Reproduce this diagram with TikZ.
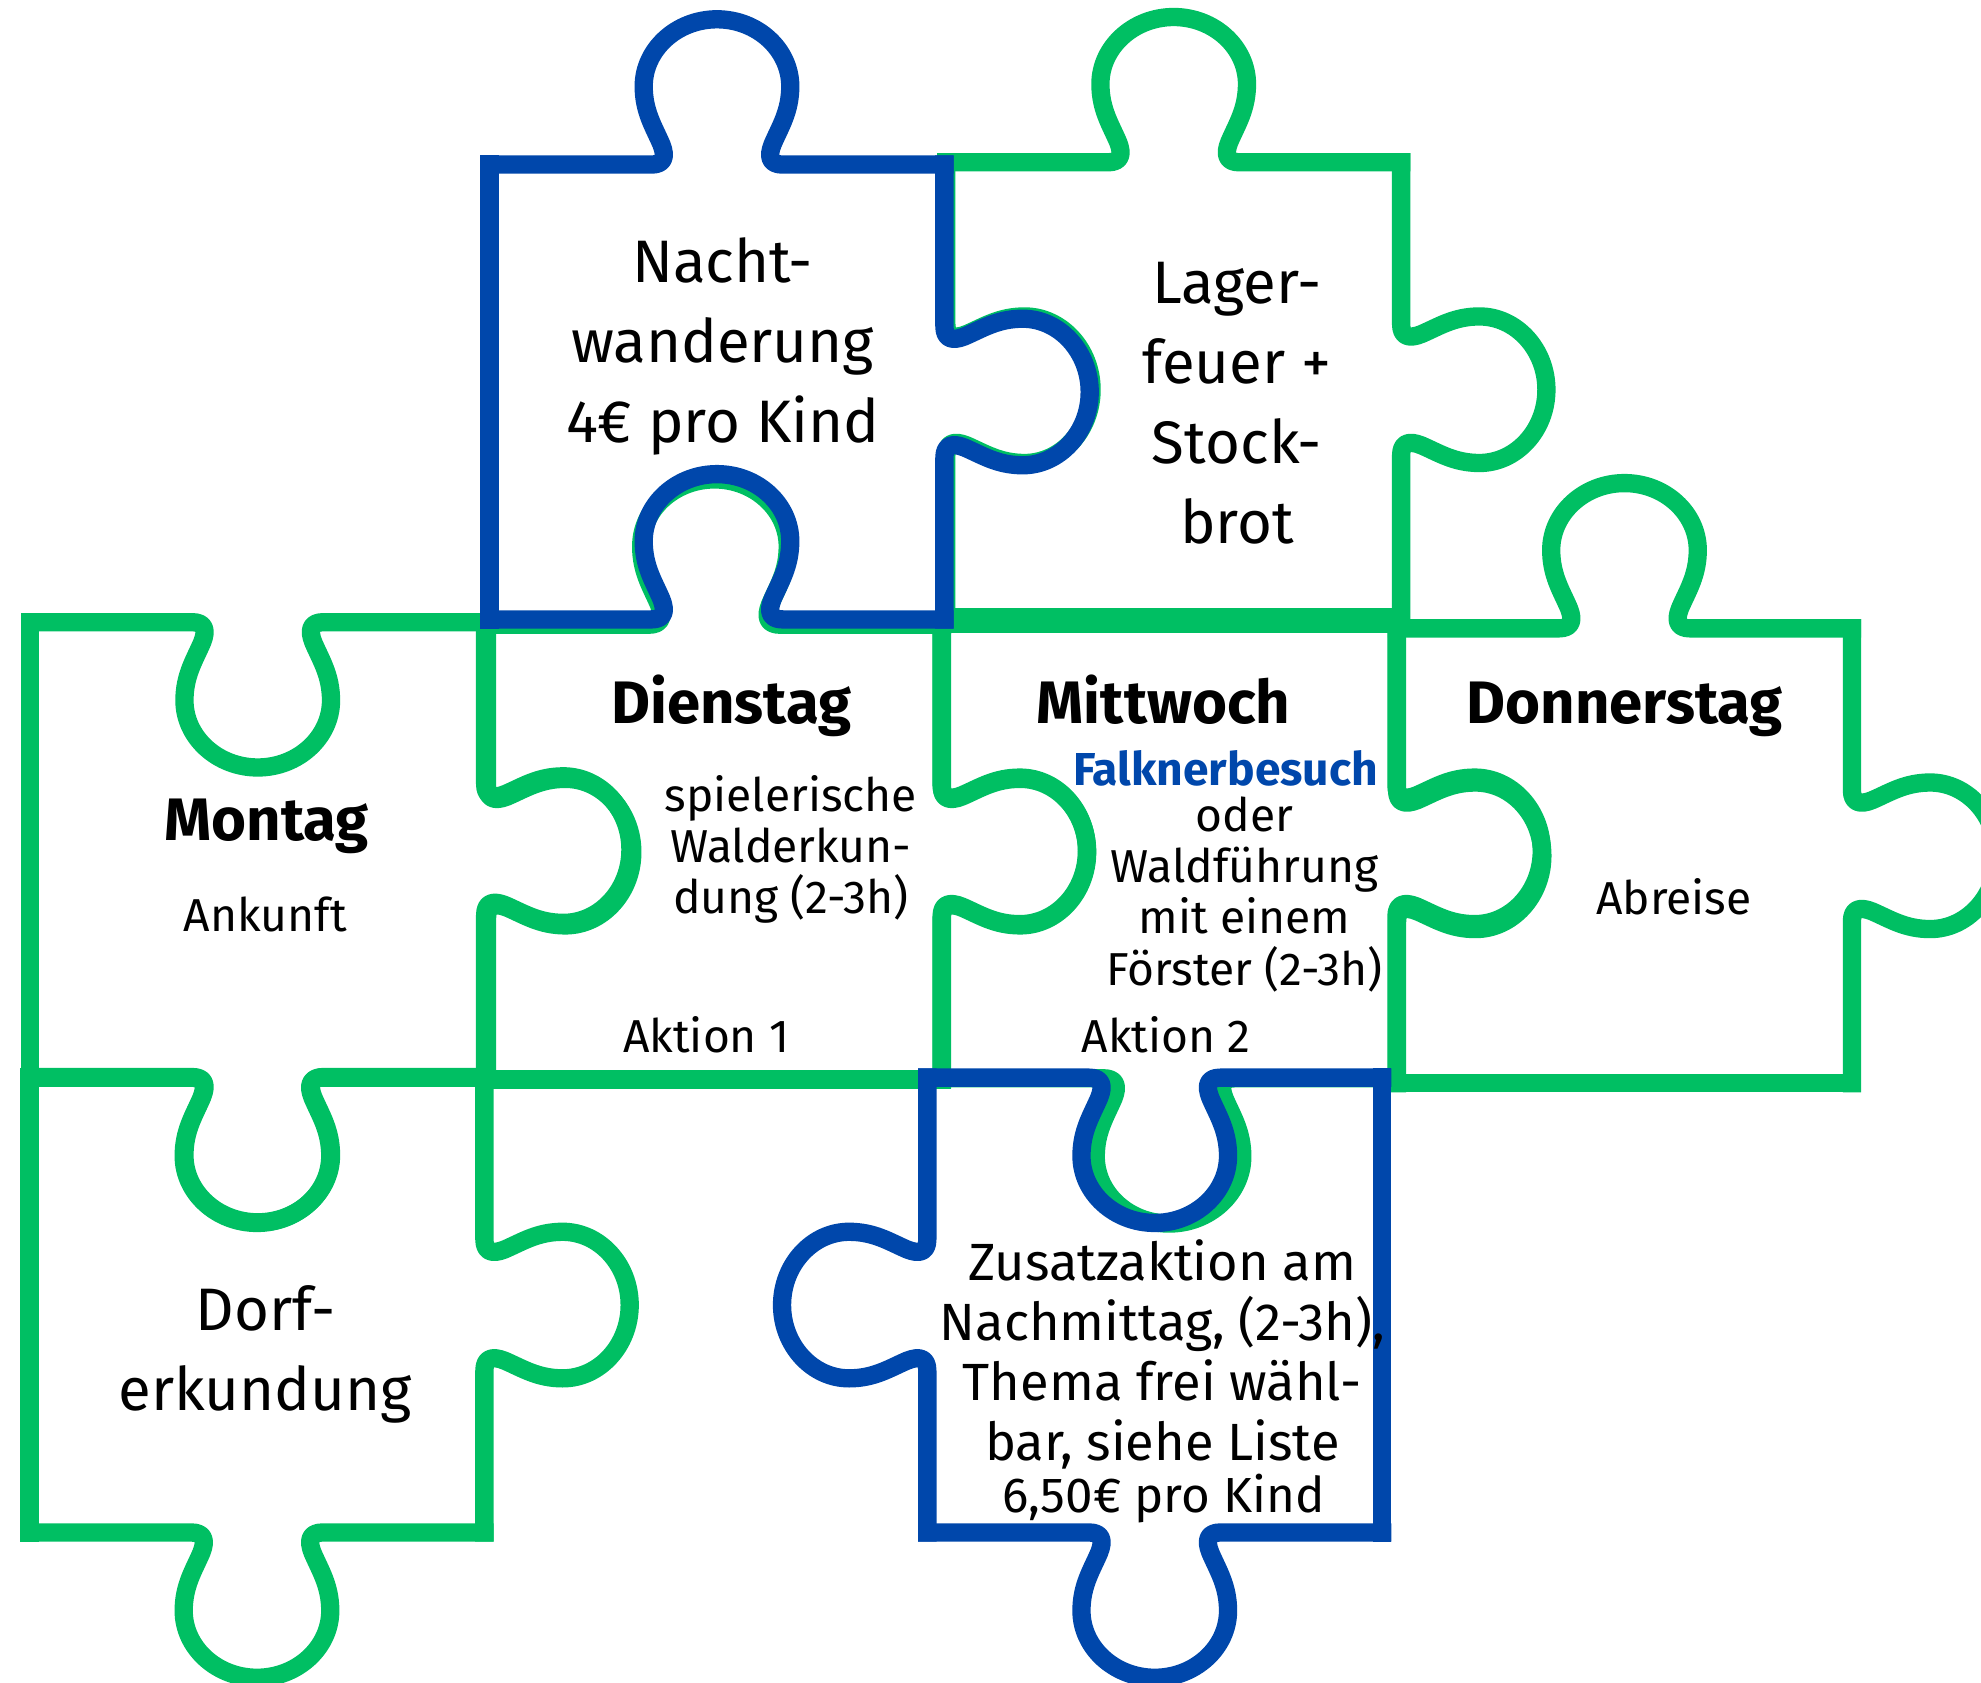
\documentclass[tikz,border=0pt]{standalone}
\usepackage{fontspec}
\setmainfont{Fira Sans}
\usepackage{tikz}
\usetikzlibrary{positioning}
\definecolor{puzzlegreen}{HTML}{00BF63}
\definecolor{puzzleblue}{HTML}{0047AB}
\tikzset
{
  greenpiece/.style = {color=puzzlegreen, line width=1.45mm, line cap=rect, line join=round},
  bluepiece/.style  = {color=puzzleblue, line width=1.45mm, line cap=rect, line join=round},
  bigtext/.style    = {align=center, inner sep=0pt, font=\fontsize{13.5}{18}\selectfont},
  daytext/.style    = {anchor=base, inner sep=0pt, font=\bfseries\fontsize{13.5}{16}\selectfont},
  smalltext/.style  = {align=center, inner sep=0pt, font=\fontsize{10.4}{11.5}\selectfont},
  midtext/.style    = {align=center, inner sep=0pt, font=\fontsize{11.8}{13.5}\selectfont},
  % one puzzle piece: top, right, bottom, left (1 = knob out, -1 = knob in, 0 = flat)
  pics/piece/.style n args = {4}{code={
    \foreach \ang/\knob in {0/#1,-90/#2,180/#3,90/#4}
    {
      \draw[rotate=\ang, yshift=1.8cm] (-1.8,0) -- (-0.52,0)
        .. controls (-0.42,0) and (-0.40,{0.06*(\knob)}) .. (-0.44,{0.16*(\knob)})
        .. controls (-0.50,{0.30*(\knob)}) and (-0.58,{0.42*(\knob)}) .. (-0.58,{0.62*(\knob)})
        .. controls (-0.58,{0.91*(\knob)}) and (-0.32,{1.15*(\knob)}) .. (0,{1.15*(\knob)})
        .. controls (0.32,{1.15*(\knob)}) and (0.58,{0.91*(\knob)}) .. (0.58,{0.62*(\knob)})
        .. controls (0.58,{0.42*(\knob)}) and (0.50,{0.30*(\knob)}) .. (0.44,{0.16*(\knob)})
        .. controls (0.40,{0.06*(\knob)}) and (0.42,0) .. (0.52,0)
        -- (1.8,0);
    }
  }}
}

\begin{document}
\begin{tikzpicture}
  \useasboundingbox (0,0) rectangle (15.68,13.32);

  % green pieces
  \pic[greenpiece] at (9.29,10.235) {piece={1}{1}{0}{-1}};   % Lagerfeuer
  \pic[greenpiece] at (2.04,6.595) {piece={-1}{1}{1}{0}};    % Montag
  \pic[greenpiece] at (5.655,6.575) {piece={1}{1}{0}{-1}};   % Dienstag
  \pic[greenpiece] at (9.253,6.585) {piece={0}{1}{1}{-1}};   % Mittwoch
  \pic[greenpiece] at (12.858,6.546) {piece={1}{1}{0}{-1}};  % Donnerstag
  \pic[greenpiece] at (2.034,2.99) {piece={-1}{1}{1}{0}};    % Dorferkundung

  % blue pieces on top
  \pic[bluepiece] at (5.675,10.217) {piece={1}{1}{-1}{0}};   % Nachtwanderung
  \pic[bluepiece] at (9.14,2.99) {piece={-1}{0}{1}{1}};      % Zusatzaktion

  % texts
  \node[bigtext] (nachttext) at (5.72,10.58) {Nacht-\\wanderung\\4€ pro Kind};
  \node[bigtext] (lagertext) at (9.79,10.13) {Lager-\\feuer +\\Stock-\\brot};

  \node[daytext] (montaglabel) at (2.11,6.67) {Montag};
  \node[smalltext] (ankunft) at (2.10,6.08) {Ankunft};

  \node[daytext] (dienstaglabel) at (5.79,7.59) {Dienstag};
  \node[smalltext] (walderkundung) at (6.26,6.60) {spielerische\\Walderkun-\\dung (2-3h)};
  \node[smalltext] (aktioneins) at (5.59,5.13) {Aktion 1};

  \node[daytext] (mittwochlabel) at (9.21,7.59) {Mittwoch};
  \node[smalltext, text=puzzleblue, font=\bfseries\fontsize{10.4}{11.5}\selectfont] (falkner) at (9.70,7.24) {Falknerbesuch};
  \node[smalltext] (waldfuehrung) at (9.85,6.24) {oder\\Waldführung\\mit einem\\Förster (2-3h)};
  \node[smalltext] (aktionzwei) at (9.23,5.13) {Aktion 2};

  \node[daytext] (donnerstaglabel) at (12.86,7.59) {Donnerstag};
  \node[smalltext] (abreise) at (13.25,6.22) {Abreise};

  \node[bigtext] (dorftext) at (2.10,2.60) {Dorf-\\erkundung};

  \node[midtext] (zusatztext) at (9.20,2.60) {Zusatzaktion am\\Nachmittag, (2-3h),\\Thema frei wähl-\\bar, siehe Liste};
  \node[midtext, font=\fontsize{11.1}{13}\selectfont] (zusatzpreis) at (9.21,1.46) {6,50€ pro Kind};
\end{tikzpicture}
\end{document}
